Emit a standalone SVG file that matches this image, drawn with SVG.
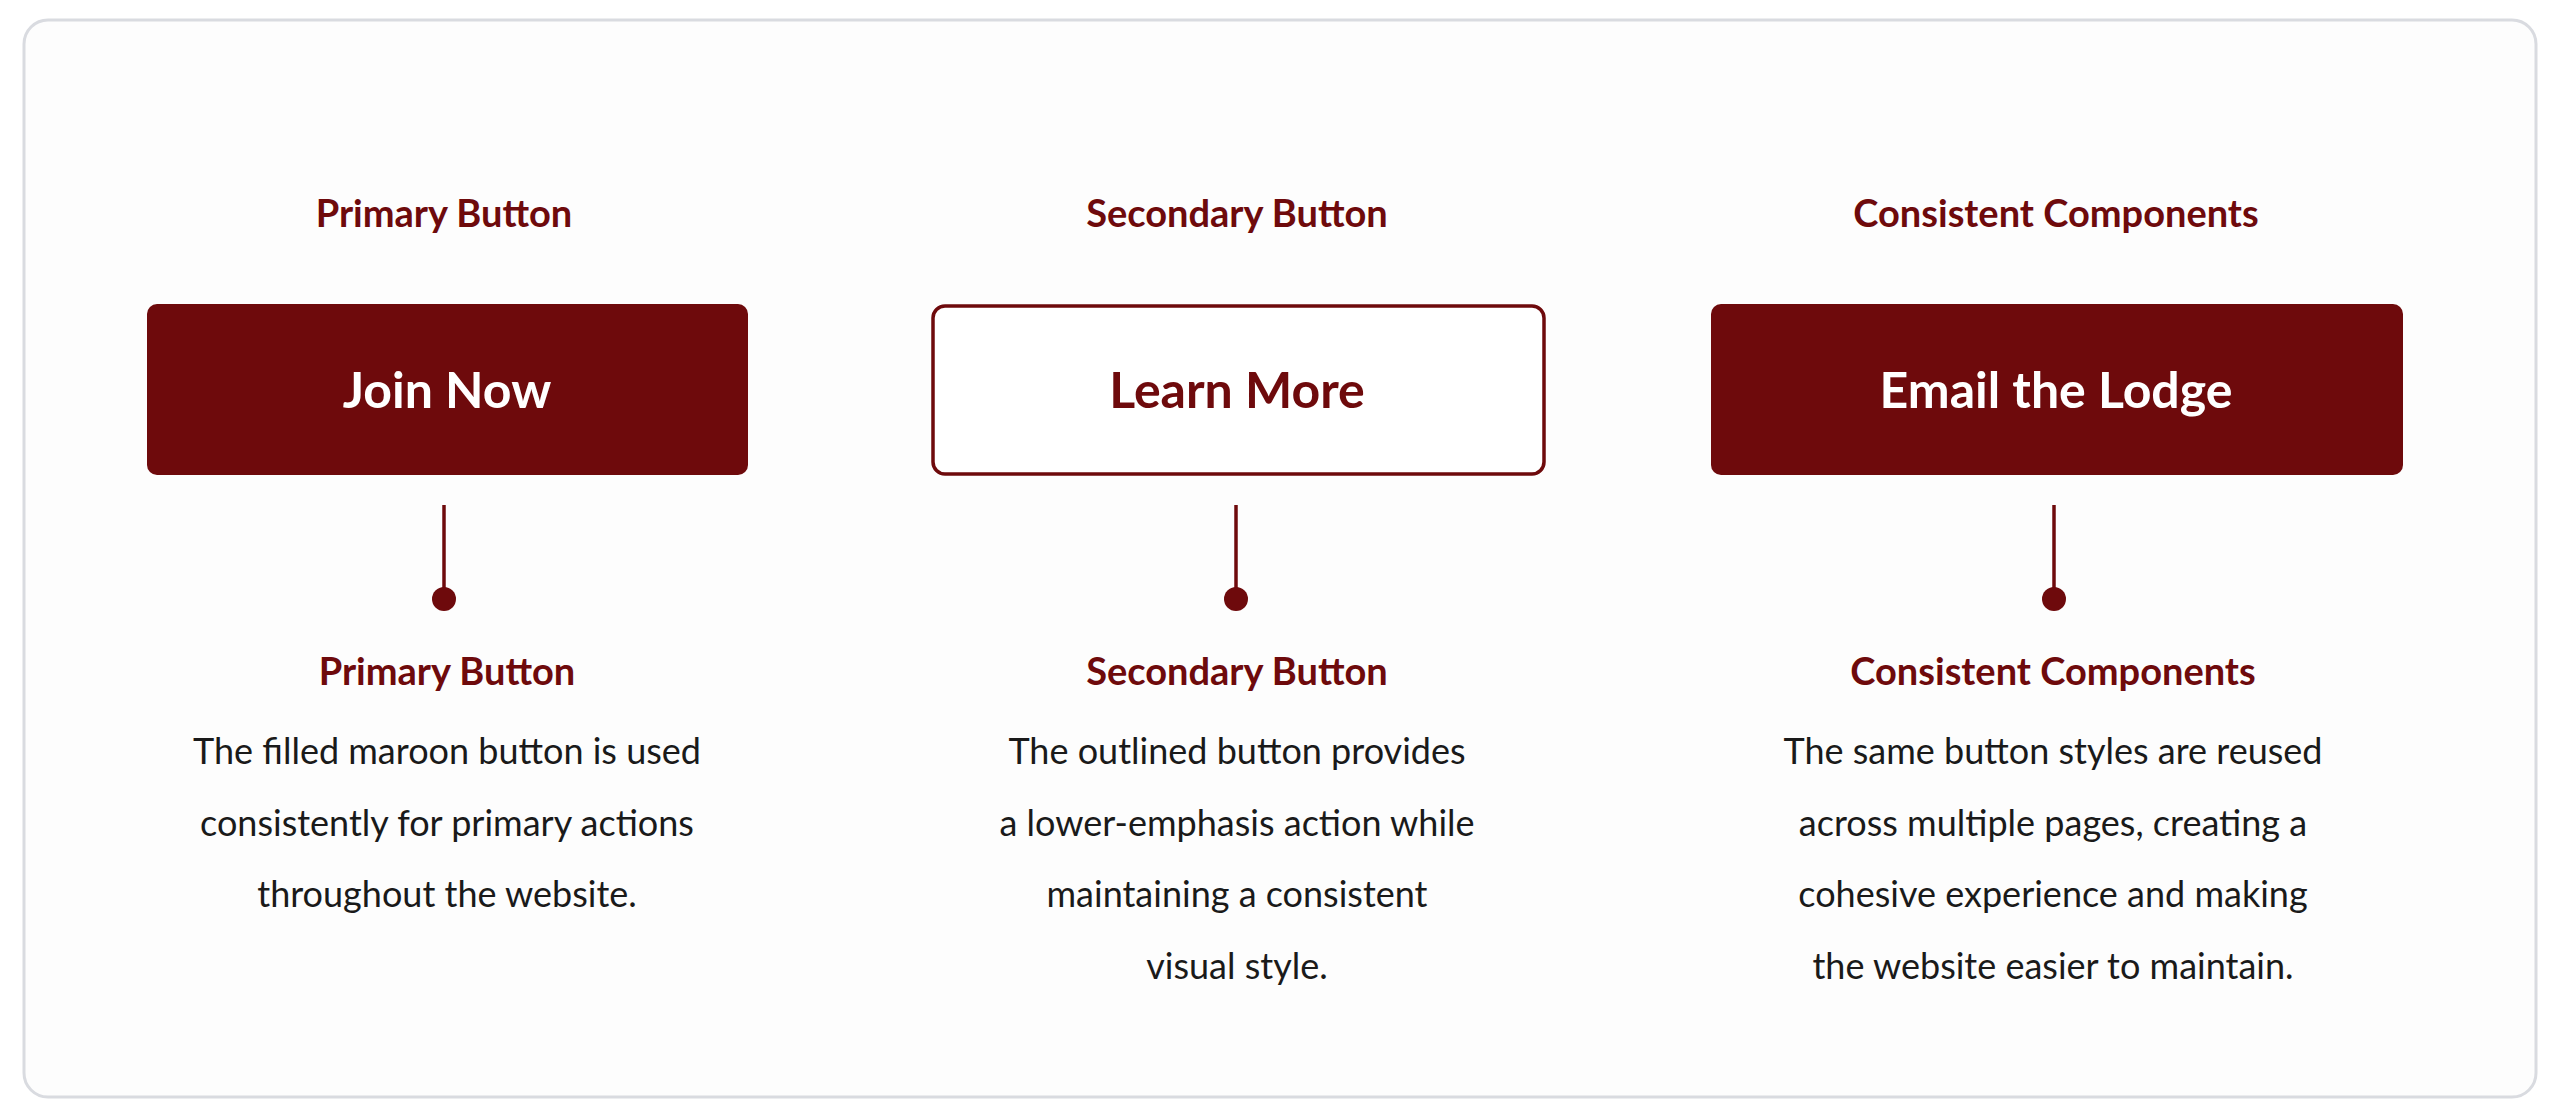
<svg xmlns="http://www.w3.org/2000/svg" width="2560" height="1118" viewBox="0 0 2560 1118">
<style>
.h{font-family:Lato,"Noto Sans",sans-serif;font-weight:700;font-size:38px;fill:#6e0a0c;text-anchor:middle}
.b{font-family:Lato,"Noto Sans",sans-serif;font-weight:700;font-size:50px;text-anchor:middle}
.t{font-family:Lato,"Noto Sans",sans-serif;font-size:36px;fill:#1a1a1a;text-anchor:middle}
.ln{stroke:#6e0a0c;stroke-width:3.5}
.dot{fill:#6e0a0c}
</style>
<rect width="2560" height="1118" fill="#ffffff"/>
<rect x="24" y="20" width="2512" height="1077" rx="24" fill="#fdfdfd" stroke="#d9dbe0" stroke-width="3"/>
<g id="connectors">
<line class="ln" x1="444" y1="505" x2="444" y2="599"/><circle class="dot" cx="444" cy="599" r="12"/>
<line class="ln" x1="1236" y1="505" x2="1236" y2="599"/><circle class="dot" cx="1236" cy="599" r="12"/>
<line class="ln" x1="2054" y1="505" x2="2054" y2="599"/><circle class="dot" cx="2054" cy="599" r="12"/>
</g>
<g id="primary">
<text class="h" x="444" y="227">Primary Button</text>
<rect x="147" y="304" width="601" height="171" rx="10" fill="#6e0a0c"/>
<text class="b" x="447" y="408" fill="#ffffff">Join Now</text>
<text class="h" x="447" y="685">Primary Button</text>
<text class="t" x="447" y="764">The filled maroon button is used</text>
<text class="t" x="447" y="836">consistently for primary actions</text>
<text class="t" x="447" y="907">throughout the website.</text>
</g>
<g id="secondary">
<text class="h" x="1237" y="227">Secondary Button</text>
<rect x="933" y="306" width="611" height="168" rx="12" fill="#ffffff" stroke="#6e0a0c" stroke-width="3.5"/>
<text class="b" x="1237" y="408" fill="#6e0a0c">Learn More</text>
<text class="h" x="1237" y="685">Secondary Button</text>
<text class="t" x="1237" y="764">The outlined button provides</text>
<text class="t" x="1237" y="836">a lower-emphasis action while</text>
<text class="t" x="1237" y="907">maintaining a consistent</text>
<text class="t" x="1237" y="979">visual style.</text>
</g>
<g id="consistent">
<text class="h" x="2056" y="227">Consistent Components</text>
<rect x="1711" y="304" width="692" height="171" rx="10" fill="#6e0a0c"/>
<text class="b" x="2056" y="408" fill="#ffffff">Email the Lodge</text>
<text class="h" x="2053" y="685">Consistent Components</text>
<text class="t" x="2053" y="764">The same button styles are reused</text>
<text class="t" x="2053" y="836">across multiple pages, creating a</text>
<text class="t" x="2053" y="907">cohesive experience and making</text>
<text class="t" x="2053" y="979">the website easier to maintain.</text>
</g>
</svg>
